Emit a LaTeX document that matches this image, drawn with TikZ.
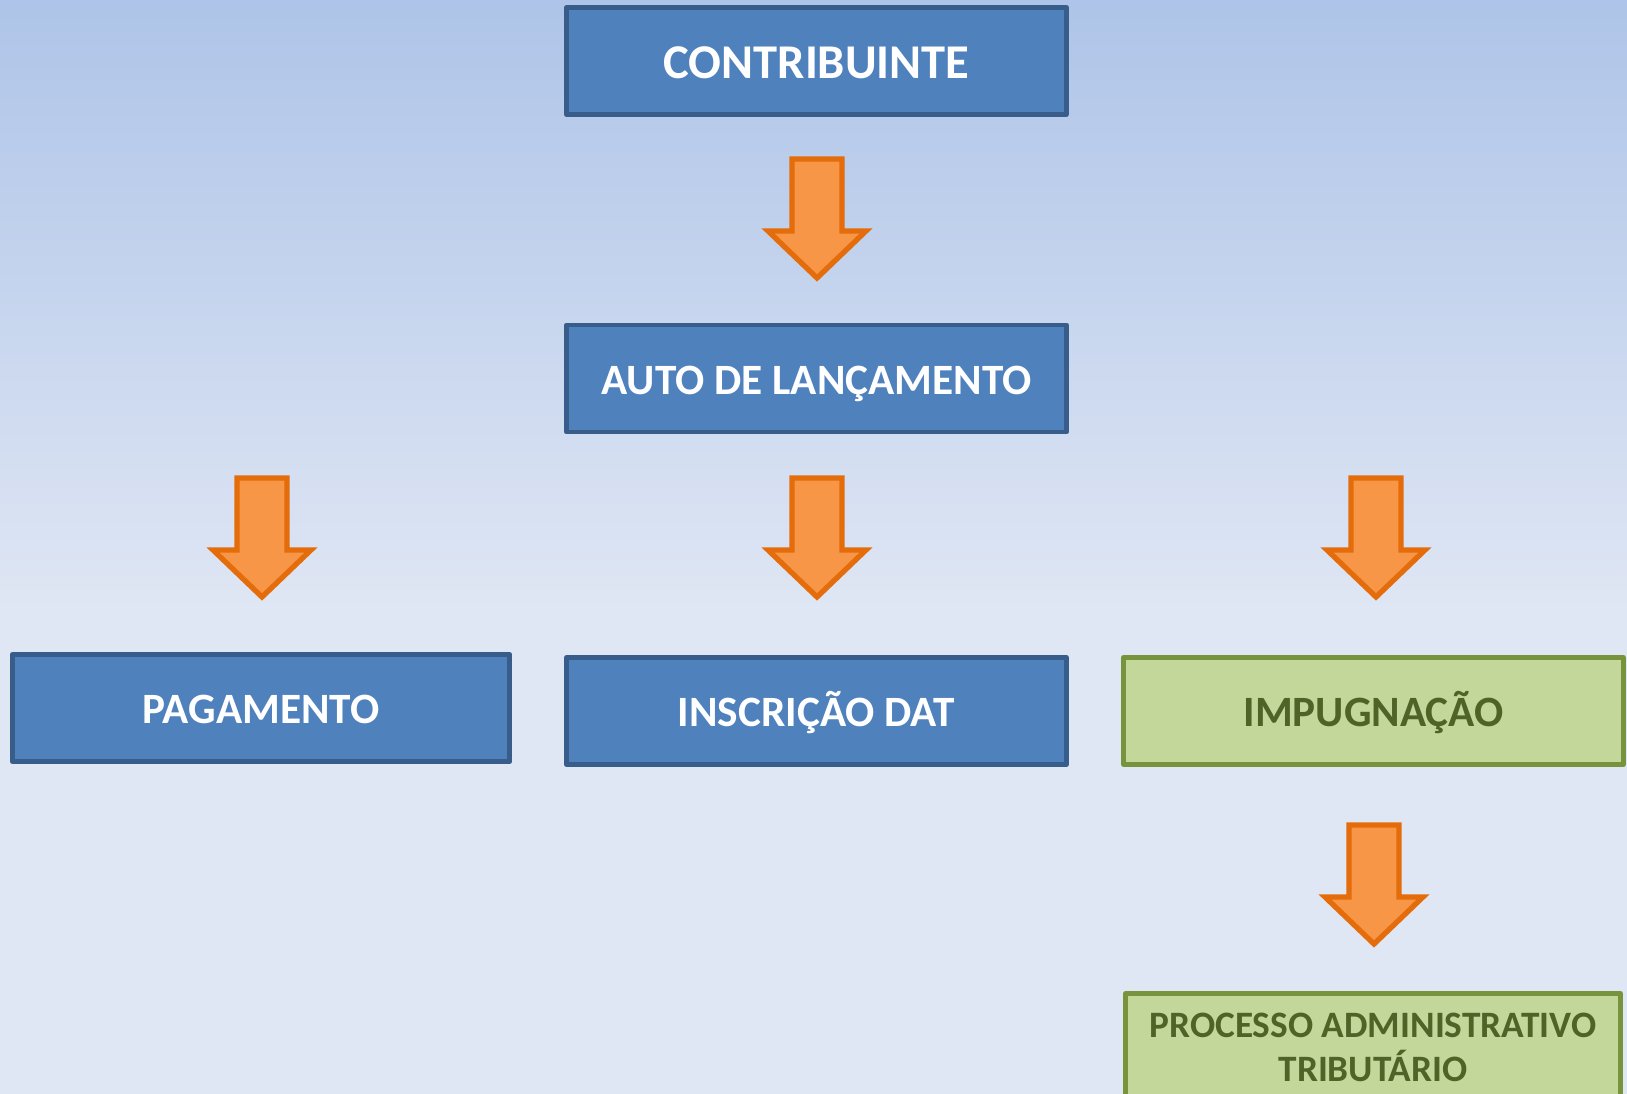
\documentclass[tikz,border=0pt]{standalone}
\usepackage{fontspec}
\setmainfont{Carlito}
\usetikzlibrary{positioning}

\definecolor{caixaazul}{RGB}{79,129,189}
\definecolor{bordaazul}{RGB}{56,93,138}
\definecolor{caixaverde}{RGB}{196,215,155}
\definecolor{bordaverde}{RGB}{119,147,60}
\definecolor{textoverde}{RGB}{79,98,40}
\definecolor{setalaranja}{RGB}{247,150,70}
\definecolor{bordalaranja}{RGB}{228,108,10}
\definecolor{fundotopo}{RGB}{174,196,232}
\definecolor{fundobaixo}{RGB}{224,231,244}

\tikzset{
	caixa/.style={line width=1.4pt, line join=round, minimum width=4.99cm, minimum height=1.07cm, inner sep=0pt},
	azul/.style={caixa, draw=bordaazul, fill=caixaazul, text=white, text height=9pt, text depth=0pt,
		font=\bfseries\fontsize{12.3}{15}\selectfont},
	verde/.style={caixa, draw=bordaverde, fill=caixaverde, text=textoverde, text height=9pt, text depth=0pt,
		font=\bfseries\fontsize{12.3}{15}\selectfont},
	seta/.style={draw=bordalaranja, fill=setalaranja, line width=1.5pt, line join=miter}
}

\begin{document}
\begin{tikzpicture}[x=0.01cm, y=-0.01cm]
	\useasboundingbox (0,0) rectangle (1627,1094);
	\clip (0,0) rectangle (1627,1094);
	% fundo
	\shade[top color=fundotopo, bottom color=fundobaixo] (0,0) rectangle (1627,620);
	\fill[fundobaixo] (0,619) rectangle (1627,1094);

	\node[azul, text height=9.8pt, font=\bfseries\fontsize{13.8}{16}\selectfont] (contribuinte) at (816.5,61) {CONTRIBUINTE};
	\node[azul] (auto) at (816.5,378.5) {AUTO DE LANÇAMENTO};
	\node[azul, minimum width=4.97cm] (pagamento) at (261,708) {PAGAMENTO};
	\node[azul] (inscricao) at (816.5,711) {INSCRIÇÃO DAT};
	\node[verde] (impugnacao) at (1373.5,711) {IMPUGNAÇÃO};
	\node[verde, minimum width=4.94cm, minimum height=0pt, text height=, text depth=, anchor=north, inner ysep=0.2cm,
		align=center, font=\bfseries\fontsize{10.6}{12.5}\selectfont] (processo) at (1373,991)
		{PROCESSO ADMINISTRATIVO\\TRIBUTÁRIO\rule[-10pt]{0pt}{10pt}};

	% setas
	\foreach \cx/\ty in {817/159, 262/478, 817/478, 1376/478, 1374/825}
		\filldraw[seta] (\cx-25,\ty) -- ++(50,0) -- ++(0,72) -- ++(24,0) -- (\cx,\ty+119)
			-- ++(-49,-47) -- ++(24,0) -- cycle;
\end{tikzpicture}
\end{document}
